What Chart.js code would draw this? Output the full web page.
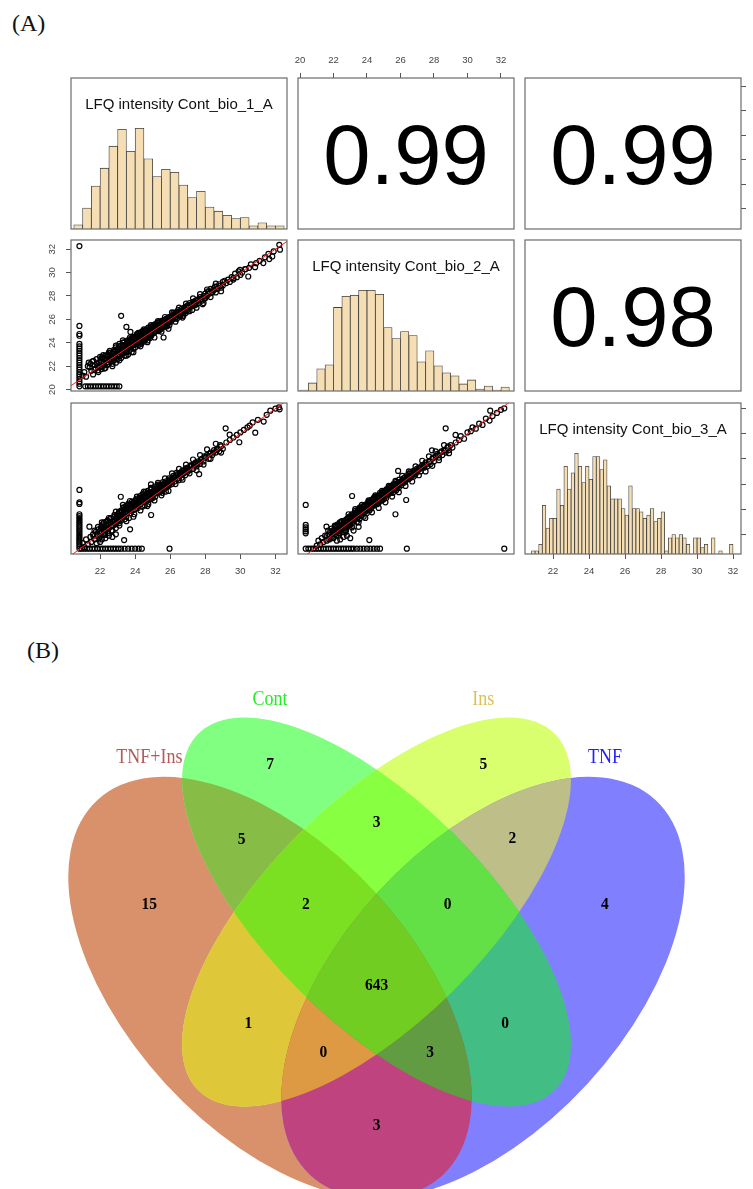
<!DOCTYPE html>
<html>
<head>
<meta charset="utf-8">
<script src="https://cdn.jsdelivr.net/npm/chart.js@4/dist/chart.umd.min.js"></script>
<style>
  html, body { margin: 0; padding: 0; background: #fff; }
  #page { position: relative; width: 753px; height: 1189px; overflow: hidden; background: #fff; }
  canvas { position: absolute; }
  .tag { position: absolute; font-family: 'Liberation Serif', serif; font-size: 24px; line-height: 24px; color: #111; }
</style>
</head>
<body>
<div id="page">
  <div class="tag" style="left:12px;top:11px">(A)</div>
  <div class="tag" style="left:27px;top:638px">(B)</div>
</div>
<script>
// ---- data: panel (A), pairs plot of three replicates ----
const sampleNames = ['LFQ intensity Cont_bio_1_A', 'LFQ intensity Cont_bio_2_A', 'LFQ intensity Cont_bio_3_A'];
const axisRanges = [[20.34, 32.66], [19.88, 32.78], [20.44, 32.44]];
const tickValues = [20, 22, 24, 26, 28, 30, 32];
const correlations = [0.99, 0.99, 0.98]; // bio1-bio2, bio1-bio3, bio2-bio3

const hist1Start = 20.5, hist1Width = 0.5;
const hist1Counts = [4, 20, 41, 58, 79, 95, 74, 96, 67, 50, 57, 54, 42, 30, 36, 21, 17, 13, 10, 11, 3, 6, 3, 3];
const hist2Start = 20.0, hist2Width = 0.5;
const hist2Counts = [1, 8, 22, 26, 83, 94, 95, 100, 100, 96, 63, 52, 59, 55, 29, 40, 25, 18, 15, 7, 11, 2, 5, 1, 4];
const hist3Start = 20.8, hist3Width = 0.2;
const hist3Counts = [1, 1, 3, 15, 8, 11, 11, 20, 15, 27, 20, 25, 31, 27, 22, 27, 23, 30, 30, 26,
  29, 21, 17, 17, 17, 14, 12, 21, 14, 14, 13, 11, 12, 14, 10, 11, 13, 1, 5, 6,
  5, 6, 5, 3, 0, 5, 5, 2, 3, 0, 5, 0, 1, 0, 0, 3];

const bio1VsBio2 = [
  // missing in bio_1 (imputed)
  [20.82,32.26],[20.82,25.44],[20.82,24.75],[20.82,24.6],[20.82,23.9],[20.82,23.7],[20.82,23.5],[20.82,23.3],[20.82,23.1],[20.82,22.9],[20.82,22.7],[20.82,22.5],[20.82,22.3],[20.82,22.1],[20.82,21.9],[20.82,21.7],[20.82,21.5],[20.82,21.3],[20.82,21.1],[20.82,20.9],[20.82,20.7],[20.82,20.5],[20.82,20.28],
  // missing in bio_2
  [21.15,20.28],[21.3,20.28],[21.45,20.28],[21.6,20.28],[21.75,20.28],[21.9,20.28],[22.05,20.28],[22.2,20.28],[22.35,20.28],[22.5,20.28],[22.65,20.28],[22.8,20.28],[22.95,20.28],[23.1,20.28],
  // measured in both
  [21.0,21.2],[21.1,21.5],[21.2,21.1],[21.3,22.0],[21.35,22.3],[21.4,21.9],[21.45,22.2],[21.5,21.6],[21.55,22.4],[21.6,21.3],[21.7,22.1],[21.75,21.8],[21.8,22.6],[21.85,22.0],[21.9,21.5],[21.95,22.3],[22.0,22.8],[22.0,21.9],
  [22.05,22.4],[22.1,22.0],[22.15,22.7],[22.2,22.3],[22.25,21.8],[22.3,22.9],[22.35,22.5],[22.4,22.1],[22.45,23.0],[22.5,22.6],[22.5,22.2],[22.55,23.3],[22.6,22.8],[22.65,22.4],[22.7,23.1],[22.7,22.0],[22.75,22.7],[22.8,23.4],[22.8,22.5],[22.85,23.0],[22.9,22.3],[22.9,23.6],[22.95,22.9],[23.0,23.2],[23.0,22.6],
  [23.05,23.5],[23.1,22.9],[23.1,23.9],[23.15,23.3],[23.2,22.7],[23.2,26.3],[23.25,23.6],[23.3,23.1],[23.3,24.0],[23.35,23.4],[23.4,22.9],[23.4,23.8],[23.45,23.5],[23.5,23.2],[23.5,25.35],[23.55,24.1],[23.6,23.6],[23.6,23.0],[23.65,23.9],[23.7,23.4],[23.73,24.93],[23.75,24.2],[23.8,23.7],[23.8,23.2],[23.85,24.0],[23.9,23.5],[23.9,24.4],[23.95,23.8],[24.0,24.1],[24.0,23.6],
  [24.05,24.5],[24.1,23.9],[24.1,24.2],[24.15,24.7],[24.2,23.8],[24.2,24.4],[24.25,24.0],[24.3,24.8],[24.3,24.3],[24.35,23.9],[24.4,24.6],[24.4,24.2],[24.45,25.0],[24.5,24.5],[24.5,24.1],[24.55,24.8],[24.6,24.3],[24.6,25.1],[24.65,24.6],[24.7,24.2],[24.7,24.9],[24.75,25.3],[24.8,24.5],[24.8,24.9],[24.85,24.4],[24.9,25.1],[24.9,24.7],[24.95,25.4],[25.0,24.8],[25.0,25.1],
  [25.05,25.5],[25.1,24.9],[25.1,25.2],[25.15,25.6],[25.2,25.0],[25.2,25.4],[25.25,25.7],[25.3,25.2],[25.35,25.5],[25.4,25.1],[25.4,25.8],[25.45,25.4],[25.5,25.6],[25.5,25.2],[25.55,25.9],[25.6,25.5],[25.62,24.45],[25.65,25.8],[25.7,25.4],[25.75,26.0],[25.8,25.7],[25.8,25.4],[25.85,26.1],[25.9,25.8],[25.95,25.5],[26.0,26.2],[26.0,25.9],
  [26.05,25.8],[26.1,26.3],[26.15,26.0],[26.2,26.4],[26.25,26.1],[26.3,26.6],[26.35,26.2],[26.4,26.5],[26.45,26.8],[26.5,26.3],[26.55,26.7],[26.6,26.4],[26.65,26.9],[26.7,26.6],[26.75,26.3],[26.8,27.0],[26.85,26.7],[26.9,27.1],[26.95,26.8],[27.0,27.2],[27.0,26.7],
  [27.05,27.0],[27.1,27.4],[27.2,27.1],[27.25,26.8],[27.3,27.5],[27.4,27.2],[27.45,27.6],[27.5,27.3],[27.6,27.7],[27.65,27.4],[27.7,27.9],[27.8,27.6],[27.85,27.3],[27.9,28.0],[28.0,27.8],[28.0,28.2],
  [28.1,28.0],[28.15,28.4],[28.25,28.2],[28.3,28.6],[28.4,28.3],[28.5,28.5],[28.55,28.8],[28.6,28.3],[28.7,28.6],[28.8,29.0],[28.9,28.7],[29.0,29.2],[29.0,28.9],
  [29.1,29.3],[29.2,29.1],[29.3,29.4],[29.4,29.2],[29.5,29.6],[29.6,29.52],[29.6,29.4],[29.7,29.9],[29.8,29.6],[29.9,30.1],[29.98,30.23],[30.0,29.8],
  [30.1,30.0],[30.27,30.29],[30.3,30.3],[30.45,29.66],[30.5,30.4],[30.6,30.7],[30.84,30.46],[30.9,30.8],[31.1,31.0],[31.31,30.81],[31.4,31.3],[31.6,31.6],[31.65,31.15],[31.82,31.37],[31.9,31.8],[32.22,32.37],[32.26,31.95],
  [21.62,22.45],[21.68,21.7],[21.82,22.25],[21.88,21.65],[22.02,22.55],[22.08,21.75],[22.18,22.95],[22.22,22.05],[22.28,22.6],[22.38,22.85],[22.42,22.35],[22.48,22.9],[22.58,22.55],[22.62,23.15],[22.68,22.75],[22.78,23.25],[22.82,22.8],[22.88,23.35],[22.92,22.65],[22.98,23.45],
  [23.02,22.9],[23.08,23.7],[23.12,23.25],[23.18,23.75],[23.22,23.1],[23.28,23.8],[23.32,23.5],[23.38,24.05],[23.42,23.3],[23.48,23.85],[23.52,23.55],[23.58,24.2],[23.62,23.75],[23.68,24.3],[23.72,23.7],[23.78,24.35],[23.82,23.95],[23.88,24.5],[23.92,24.05],[23.98,24.45],
  [24.02,23.95],[24.08,24.6],[24.12,24.35],[24.18,24.85],[24.22,24.1],[24.28,24.65],[24.32,24.05],[24.38,24.95],[24.42,24.4],[24.48,24.85],[24.52,24.25],[24.58,25.05],[24.62,24.6],[24.68,25.15],[24.72,24.45],[24.78,25.05],[24.82,24.7],[24.88,25.3],[24.92,24.6],[24.98,25.25],
  [25.08,25.35],[25.12,24.95],[25.18,25.5],[25.28,25.45],[25.32,25.0],[25.38,25.7],[25.48,25.3],[25.52,25.85],[25.58,25.35],[25.68,25.95],[25.72,25.55],[25.78,26.05],[25.88,25.65],[25.92,26.2],
  [26.08,26.15],[26.18,26.55],[26.28,26.35],[26.38,26.05],[26.48,26.65],[26.58,26.25],[26.68,26.75],[26.78,26.85],[26.88,26.55],[26.98,27.05],
  [27.15,27.25],[27.35,27.3],[27.55,27.6],[27.75,27.75],[27.95,27.85],[28.2,28.35],[28.45,28.55],[28.65,28.8],[28.85,28.85],
  [22.1,22.75],[22.3,21.85],[22.5,23.15],[22.7,22.2],[22.9,23.75],[23.1,22.5],[23.3,24.2],[23.5,22.9],[23.7,24.45],[23.9,23.2],[24.1,24.75],[24.3,23.7],[24.5,25.15],[24.7,24.05],[24.9,25.5],[25.1,24.45],[25.3,25.85],
  [25.5,24.95],[25.7,26.2],[25.9,25.2],[26.1,26.6],[26.3,25.8],[26.5,27.0],[26.7,26.15],[26.9,27.35],[27.1,26.7],[27.3,27.8],[27.5,27.0],[27.7,28.15],[27.9,27.4],[28.1,28.55],[28.3,27.9],[28.6,29.05],[28.9,28.4],
  [23.22,23.45],[23.44,23.65],[23.66,23.8],[23.88,24.1],[24.12,24.3],[24.34,24.5],[24.56,24.7],[24.78,24.85],[25.02,25.2],[25.24,25.3],[25.46,25.6],[25.68,25.75],[25.9,25.95],[26.12,26.2],[26.34,26.45],[26.56,26.6],[26.78,26.75],[27.0,27.0],[27.22,27.3],[27.44,27.45]
];

const bio1VsBio3 = [
  // missing in bio_1
  [20.82,25.53],[20.82,24.55],[20.82,24.42],[20.82,23.6],[20.82,23.45],[20.82,23.3],[20.82,23.15],[20.82,23.0],[20.82,22.85],[20.82,22.7],[20.82,22.55],[20.82,22.4],[20.82,22.25],[20.82,22.1],[20.82,21.95],[20.82,21.8],[20.82,21.65],[20.82,21.5],[20.82,21.35],[20.82,21.2],[20.82,21.05],[20.82,20.86],
  // missing in bio_3
  [20.95,20.86],[21.1,20.86],[21.25,20.86],[21.4,20.86],[21.55,20.86],[21.7,20.86],[21.85,20.86],[22.0,20.86],[22.15,20.86],[22.3,20.86],[22.45,20.86],[22.6,20.86],[22.75,20.86],[22.9,20.86],[23.05,20.86],[23.2,20.86],[23.4,20.86],[23.6,20.86],[23.8,20.86],[24.0,20.86],[24.2,20.86],[24.38,20.86],[25.96,20.86],
  // measured in both
  [21.0,21.3],[21.1,21.0],[21.2,21.6],[21.3,21.2],[21.39,22.61],[21.45,21.8],[21.5,21.4],[21.6,22.0],[21.7,21.6],[21.75,22.2],[21.8,21.3],[21.85,21.9],[21.9,22.4],[21.95,21.7],[22.0,22.1],[22.0,21.4],
  [22.1,21.6],[22.3,21.7],[22.5,21.9],[22.7,21.8],[22.9,22.0],[23.37,21.55],[23.71,22.4],
  [22.05,22.5],[22.1,22.2],[22.15,22.8],[22.2,22.0],[22.25,22.6],[22.3,22.3],[22.35,23.0],[22.4,22.5],[22.45,22.1],[22.5,22.8],[22.55,23.2],[22.6,22.6],[22.65,22.3],[22.7,23.0],[22.75,22.7],[22.8,23.4],[22.85,22.9],[22.9,22.5],[22.95,23.2],[23.0,23.0],[23.0,23.6],
  [23.05,23.3],[23.1,22.9],[23.1,23.7],[23.15,23.4],[23.18,24.99],[23.2,23.1],[23.25,23.8],[23.3,23.4],[23.35,24.1],[23.4,23.2],[23.45,23.7],[23.5,24.0],[23.5,23.4],[23.55,24.3],[23.6,23.8],[23.65,23.3],[23.7,24.1],[23.75,23.7],[23.8,24.4],[23.85,23.9],[23.9,24.2],[23.95,23.6],[24.0,24.5],[24.0,24.0],
  [24.05,24.3],[24.1,24.7],[24.15,24.1],[24.2,24.5],[24.25,24.9],[24.3,24.4],[24.35,24.7],[24.4,24.2],[24.45,25.0],[24.5,24.6],[24.55,24.3],[24.6,24.9],[24.65,25.2],[24.7,24.7],[24.75,24.4],[24.8,25.0],[24.85,25.3],[24.9,24.8],[24.9,25.98],[24.91,23.54],[24.95,25.1],[25.0,25.4],[25.0,24.9],
  [25.05,25.2],[25.1,25.6],[25.15,25.0],[25.2,25.4],[25.25,25.8],[25.3,25.3],[25.35,25.6],[25.4,25.9],[25.45,25.4],[25.5,25.7],[25.55,25.3],[25.6,26.0],[25.65,25.6],[25.7,25.9],[25.75,25.4],[25.8,26.1],[25.85,25.8],[25.9,26.3],[25.95,25.9],[26.0,26.1],
  [26.05,26.4],[26.1,26.0],[26.2,26.5],[26.25,26.2],[26.3,26.7],[26.4,26.4],[26.45,26.8],[26.5,26.5],[26.6,26.9],[26.65,26.5],[26.7,26.8],[26.8,27.1],[26.85,26.7],[26.9,27.0],[27.0,27.3],
  [27.1,27.1],[27.2,27.5],[27.3,27.2],[27.4,27.6],[27.5,27.4],[27.6,27.8],[27.65,26.78],[27.7,27.6],[27.8,28.0],[27.9,27.8],[28.0,28.1],
  [28.1,28.3],[28.2,28.0],[28.3,28.5],[28.4,28.3],[28.5,28.7],[28.6,28.5],[28.7,28.8],[28.8,28.6],[28.9,29.0],[29.0,28.8],
  [29.16,30.43],[29.2,29.3],[29.39,29.92],[29.4,29.5],[29.6,29.7],[29.8,29.9],[29.94,29.32],[30.0,30.1],
  [30.2,30.3],[30.4,30.5],[30.53,30.64],[30.7,30.9],[30.85,30.08],[31.0,31.1],[31.33,30.96],[31.5,31.5],[31.71,31.83],[32.0,32.0],[32.2,32.1],[32.24,31.94],
  [21.62,21.85],[21.68,22.3],[21.82,22.05],[21.88,22.6],[22.02,21.9],[22.08,22.65],[22.18,22.4],[22.22,22.95],[22.28,22.15],[22.38,22.75],[22.42,23.1],[22.48,22.45],[22.58,22.95],[22.62,23.3],[22.68,22.7],[22.78,23.1],[22.82,23.55],[22.88,22.8],[22.92,23.35],[22.98,23.45],
  [23.02,23.15],[23.08,23.8],[23.12,23.5],[23.18,23.25],[23.22,23.9],[23.28,23.6],[23.32,24.15],[23.38,23.5],[23.42,23.95],[23.48,24.25],[23.52,23.7],[23.58,24.1],[23.62,24.45],[23.68,23.9],[23.72,24.35],[23.78,24.05],[23.82,24.6],[23.88,24.2],[23.92,24.55],[23.98,24.3],
  [24.02,24.75],[24.08,24.45],[24.12,24.85],[24.18,24.35],[24.22,24.7],[24.28,25.05],[24.32,24.6],[24.38,24.95],[24.42,25.2],[24.48,24.75],[24.52,25.1],[24.58,25.35],[24.62,24.8],[24.68,25.25],[24.72,25.45],[24.78,24.9],[24.82,25.2],[24.88,25.55],[24.92,25.0],[24.98,25.3],
  [25.08,25.45],[25.12,25.8],[25.18,25.25],[25.28,25.65],[25.32,25.95],[25.38,25.35],[25.48,25.9],[25.52,25.55],[25.58,26.15],[25.68,25.8],[25.72,26.2],[25.78,25.75],[25.88,26.05],[25.92,26.45],
  [26.08,26.25],[26.18,26.65],[26.28,26.45],[26.38,26.9],[26.48,26.3],[26.58,26.7],[26.68,27.05],[26.78,26.85],[26.88,27.25],[26.98,26.95],
  [27.15,27.4],[27.35,27.5],[27.55,27.6],[27.75,27.9],[27.95,28.2],[28.25,28.4],[28.45,28.5],[28.65,28.7],[28.85,29.1],
  [22.1,22.95],[22.3,21.95],[22.5,23.3],[22.7,22.3],[22.9,23.8],[23.1,22.7],[23.3,24.35],[23.5,23.05],[23.7,24.65],[23.9,23.4],[24.1,25.0],[24.3,23.9],[24.5,25.4],[24.7,24.25],[24.9,25.7],[25.1,24.7],[25.3,26.1],
  [25.5,25.1],[25.7,26.45],[25.9,25.45],[26.1,26.85],[26.3,26.0],[26.5,27.2],[26.7,26.35],[26.9,27.55],[27.1,26.85],[27.3,27.95],[27.5,27.1],[27.7,28.3],[27.9,27.55],[28.1,28.75],[28.3,28.0],[28.6,29.2],[28.9,28.5],
  [23.22,23.55],[23.44,23.8],[23.66,23.95],[23.88,24.15],[24.12,24.45],[24.34,24.6],[24.56,24.85],[24.78,25.1],[25.02,25.3],[25.24,25.5],[25.46,25.75],[25.68,25.95],[25.9,26.2],[26.12,26.4],[26.34,26.6],[26.56,26.85],[26.78,27.05],[27.0,27.2],[27.22,27.45],[27.44,27.7]
];

const bio2VsBio3 = [
  // missing in bio_2
  [20.34,24.34],[20.34,22.75],[20.34,22.56],[20.34,22.4],[20.34,22.24],[20.34,22.08],[20.34,20.86],
  // missing in bio_3
  [20.5,20.86],[20.65,20.86],[20.8,20.86],[20.95,20.86],[21.1,20.86],[21.25,20.86],[21.4,20.86],[21.55,20.86],[21.7,20.86],[21.85,20.86],[22.0,20.86],[22.15,20.86],[22.3,20.86],[22.45,20.86],[22.6,20.86],[22.75,20.86],[22.9,20.86],[23.05,20.86],[23.2,20.86],[23.4,20.86],[23.6,20.86],[23.8,20.86],[24.0,20.86],[24.2,20.86],[24.4,20.86],[24.6,20.86],[24.78,20.86],[26.38,20.86],[32.2,20.86],
  // measured in both
  [21.0,21.1],[21.1,21.5],[21.2,21.2],[21.3,21.7],[21.4,21.4],[21.5,21.9],[21.58,22.61],[21.6,21.5],[21.7,22.0],[21.75,21.6],[21.8,22.2],[21.9,21.8],[21.95,22.3],[22.0,21.7],[22.0,22.1],
  [22.2,21.5],[22.4,21.6],[22.6,21.8],[22.8,21.9],[23.0,21.7],[23.2,22.3],[24.14,21.55],[23.5,22.6],
  [22.05,22.4],[22.1,22.0],[22.15,22.6],[22.2,22.2],[22.25,22.8],[22.3,22.4],[22.35,22.1],[22.4,22.7],[22.45,23.0],[22.5,22.5],[22.55,22.2],[22.6,22.8],[22.65,23.1],[22.7,22.6],[22.75,22.3],[22.8,22.9],[22.85,23.3],[22.9,22.7],[22.95,23.1],[23.0,22.8],[23.0,23.4],
  [23.05,23.1],[23.11,25.05],[23.1,23.5],[23.15,22.9],[23.2,23.3],[23.25,23.7],[23.3,23.2],[23.35,23.6],[23.4,23.0],[23.45,23.9],[23.5,23.5],[23.55,23.2],[23.6,23.8],[23.65,24.1],[23.7,23.5],[23.75,23.9],[23.8,23.4],[23.85,24.2],[23.9,23.8],[23.95,24.0],[24.0,23.7],[24.0,24.3],
  [24.05,24.1],[24.1,24.5],[24.15,23.9],[24.2,24.3],[24.25,24.7],[24.3,24.2],[24.35,24.5],[24.4,24.9],[24.45,24.3],[24.5,24.6],[24.55,24.9],[24.6,24.4],[24.65,24.7],[24.7,25.1],[24.75,24.6],[24.8,24.9],[24.85,25.2],[24.9,24.7],[24.95,25.0],[25.0,25.3],[25.0,24.8],
  [25.05,25.1],[25.1,25.5],[25.15,24.9],[25.2,25.3],[25.25,25.6],[25.3,25.2],[25.35,25.5],[25.4,25.8],[25.45,25.4],[25.5,25.7],[25.55,25.3],[25.6,25.9],[25.65,25.6],[25.7,23.6],[25.7,26.0],[25.75,25.5],[25.8,25.8],[25.85,26.1],[25.86,27.04],[25.9,25.7],[25.95,26.0],[26.0,26.2],
  [26.05,25.9],[26.1,26.3],[26.2,26.1],[26.25,26.5],[26.3,26.2],[26.34,24.73],[26.4,26.6],[26.5,26.4],[26.55,26.8],[26.6,26.5],[26.7,26.9],[26.8,26.6],[26.85,27.0],[26.9,26.8],[27.0,27.1],
  [27.1,27.3],[27.2,27.0],[27.3,27.5],[27.4,27.3],[27.5,27.7],[27.6,27.4],[27.7,27.8],[27.8,27.6],[27.88,28.68],[27.9,28.0],[28.0,27.8],
  [28.1,28.2],[28.2,28.4],[28.3,28.1],[28.4,28.5],[28.5,28.3],[28.6,28.7],[28.7,28.5],[28.7,30.43],[28.8,28.9],[28.9,28.7],[29.0,29.1],
  [29.1,28.9],[29.29,29.9],[29.3,29.3],[29.5,29.5],[29.6,29.8],[29.8,29.6],[30.0,30.1],
  [30.2,30.2],[30.3,30.51],[30.5,30.4],[30.7,30.8],[30.9,30.7],[31.1,31.2],[31.32,31.04],[31.36,31.83],[31.5,31.4],[31.76,31.65],[32.0,31.9],[32.2,32.02],
  [21.62,21.9],[21.68,22.3],[21.82,21.7],[21.88,22.45],[22.02,22.2],[22.08,22.7],[22.18,21.95],[22.22,22.55],[22.28,22.25],[22.38,22.95],[22.42,22.4],[22.48,22.8],[22.58,22.5],[22.62,23.0],[22.68,22.35],[22.78,23.2],[22.82,22.6],[22.88,23.0],[22.92,23.4],[22.98,22.7],
  [23.02,23.25],[23.08,23.6],[23.12,23.0],[23.18,23.55],[23.22,23.15],[23.28,23.85],[23.32,23.4],[23.38,23.75],[23.42,23.3],[23.48,24.0],[23.52,23.65],[23.58,24.15],[23.62,23.45],[23.68,24.0],[23.72,23.7],[23.78,24.25],[23.82,23.75],[23.88,24.35],[23.92,23.95],[23.98,24.4],
  [24.02,24.0],[24.08,24.6],[24.12,24.2],[24.18,24.55],[24.22,24.05],[24.28,24.75],[24.32,24.4],[24.38,24.8],[24.42,24.55],[24.48,25.0],[24.52,24.45],[24.58,24.8],[24.62,25.05],[24.68,24.5],[24.72,24.9],[24.78,25.3],[24.82,24.75],[24.88,25.1],[24.92,25.35],[24.98,24.95],
  [25.08,25.4],[25.12,25.05],[25.18,25.6],[25.28,25.4],[25.32,25.75],[25.38,25.3],[25.48,25.85],[25.52,25.5],[25.58,26.0],[25.68,25.7],[25.72,26.15],[25.78,25.65],[25.88,25.95],[25.92,26.35],
  [26.08,26.1],[26.18,26.45],[26.28,26.3],[26.38,26.7],[26.48,26.55],[26.58,26.95],[26.68,26.65],[26.78,27.05],[26.88,26.75],[26.98,27.2],
  [27.15,27.2],[27.35,27.4],[27.55,27.55],[27.75,27.75],[27.95,28.1],[28.25,28.3],[28.45,28.6],[28.65,28.65],[28.85,29.0],
  [22.1,22.65],[22.3,21.9],[22.5,23.05],[22.7,22.15],[22.9,23.6],[23.1,22.55],[23.3,24.0],[23.5,22.95],[23.7,24.35],[23.9,23.3],[24.1,24.7],[24.3,23.75],[24.5,25.1],[24.7,24.1],[24.9,25.45],[25.1,24.55],[25.3,25.85],
  [25.5,25.0],[25.7,26.25],[25.9,25.35],[26.1,26.65],[26.3,25.85],[26.5,27.0],[26.7,26.2],[26.9,27.4],[27.1,26.7],[27.3,27.85],[27.5,27.0],[27.7,28.2],[27.9,27.45],[28.1,28.6],[28.3,27.9],[28.6,29.1],[28.9,28.45],
  [23.22,23.4],[23.44,23.6],[23.66,23.85],[23.88,24.05],[24.12,24.35],[24.34,24.6],[24.56,24.7],[24.78,25.0],[25.02,25.15],[25.24,25.4],[25.46,25.55],[25.68,25.8],[25.9,26.0],[26.12,26.25],[26.34,26.4],[26.56,26.65],[26.78,26.85],[27.0,27.0],[27.22,27.3],[27.44,27.5]
];

// ---- data: panel (B), Venn diagram ----
const vennSets = ['TNF+Ins', 'Cont', 'Ins', 'TNF'];
// membership flags in vennSets order
const vennRegions = ['1000','0100','0010','0001','1100','0110','0011','1010','0101','1001','1110','0111','1011','1101','1111'];
const vennCounts  = [15, 7, 5, 4, 5, 3, 2, 1, 0, 3, 2, 0, 0, 3, 643];

// ---- layout / style ----
const vennShapes = [ // cx, cy, a, b, rotation (deg, y up), in diagram units
  [0.35, 0.465, 0.359, 0.2, -47.4],
  [0.5, 0.5714, 0.355, 0.155, -45],
  [0.5, 0.5714, 0.355, 0.155, 45],
  [0.65, 0.465, 0.359, 0.2, 47.4]
];
const vennRegionColors = ['#D9916C','#80FF80','#DAFF6E','#8080FF','#87BC46','#88FF40','#BEBE88','#DEC83A','#42BE84','#BE437E','#7CE022','#62E046','#DE9A42','#629C42','#72CD22'];
const vennLabelPos = [[0.18,0.5813],[0.35,0.7785],[0.6504,0.7785],[0.8218,0.5813],[0.3101,0.6738],[0.5003,0.6968],[0.6913,0.6746],
  [0.3194,0.4146],[0.681,0.4146],[0.5003,0.2704],[0.4007,0.5813],[0.6003,0.5813],[0.4251,0.3738],[0.5754,0.3738],[0.5003,0.4672]];
const vennSetPos = [[0.18,0.7893],[0.35,0.871],[0.6504,0.871],[0.8218,0.7893]];
const vennSetColors = ['#B35A5A', '#22EE22', '#DCC05A', '#1E1EFF'];

const page = document.getElementById('page');
const M = 30;
const boxX = [71, 298, 525], boxY = [78, 240, 403], boxW = 216, boxH = 151;

function makeCanvas(left, top, w, h) {
  const c = document.createElement('canvas');
  c.width = w; c.height = h;
  c.style.left = left + 'px'; c.style.top = top + 'px';
  c.style.width = w + 'px'; c.style.height = h + 'px';
  page.appendChild(c);
  return c;
}

function axis(range, position, o) {
  o = o || {};
  const size = position === 'right' ? 12 : M;
  const s = {
    type: 'linear', position: position, min: range[0], max: range[1], bounds: 'data', offset: false,
    display: !!o.show,
    grid: {display: true, drawOnChartArea: false, drawTicks: true, tickLength: 5, color: '#555', lineWidth: 1, offset: false},
    border: {display: false},
    ticks: {display: !!o.labels, autoSkip: false, color: '#444',
      font: {family: 'Liberation Sans', size: 9.5}, padding: o.pad || 6.5,
      minRotation: o.rot || 0, maxRotation: o.rot || 0, crossAlign: o.rot ? 'center' : 'near'}
  };
  if (o.show) {
    s.afterBuildTicks = sc => { sc.ticks = tickValues.filter(v => v >= sc.min && v <= sc.max).map(v => ({value: v})); };
    s.afterFit = sc => { if (sc.isHorizontal()) sc.height = size; else sc.width = size; };
  }
  return s;
}

const decor = {
  id: 'decor',
  afterDraw(chart, args, o) {
    const {ctx, chartArea: a} = chart;
    const cx = (a.left + a.right) / 2;
    ctx.save();
    if (o.big) {
      ctx.fillStyle = '#000';
      ctx.font = '85px "Liberation Sans"';
      ctx.textAlign = 'center';
      ctx.textBaseline = 'alphabetic';
      ctx.fillText(o.big, cx, (a.top + a.bottom) / 2 + 85 * 0.716 / 2);
    }
    if (o.title) {
      ctx.fillStyle = '#111';
      ctx.font = '15px "Liberation Sans"';
      ctx.textAlign = 'center';
      ctx.textBaseline = 'alphabetic';
      ctx.fillText(o.title, cx, a.top + 30.5);
    }
    ctx.strokeStyle = '#6b6b6b';
    ctx.lineWidth = 1.2;
    ctx.strokeRect(a.left, a.top, a.width, a.height);
    ctx.restore();
  }
};

function panel(row, col, type, scales, datasets, decorOpts) {
  const mr = col === 2 ? 12 : M;
  const canvas = makeCanvas(boxX[col] - M, boxY[row] - M, boxW + M + mr, boxH + 2 * M);
  const shown = {left: false, right: false, top: false, bottom: false};
  Object.values(scales).forEach(s => { if (s.display) shown[s.position] = true; });
  new Chart(canvas, {
    type: type,
    data: {datasets: datasets},
    options: {
      responsive: false, animation: false, devicePixelRatio: 1, events: [],
      layout: {padding: {left: shown.left ? 0 : M, right: shown.right ? 0 : mr, top: shown.top ? 0 : M, bottom: shown.bottom ? 0 : M}},
      scales: scales,
      plugins: {legend: {display: false}, tooltip: {enabled: false}, decor: decorOpts}
    },
    plugins: [decor]
  });
}

function histDataset(counts, start, width) {
  return {
    data: counts.map((c, i) => ({x: start + (i + 0.5) * width, y: c})),
    backgroundColor: '#F5DEB3', borderColor: '#3c3c3c', borderWidth: 0.8,
    barPercentage: 1, categoryPercentage: 1
  };
}
function countAxis(counts) { return axis([0, 1.5 * Math.max(...counts)], 'left'); }

function scatterSets(points) {
  return [
    {data: [{x: 19, y: 19}, {x: 34, y: 34}], showLine: true, borderColor: '#ff1a1a', borderWidth: 1, pointRadius: 0},
    {data: points.map(p => ({x: p[0], y: p[1]})), pointRadius: 2.5, borderWidth: 1.2, borderColor: '#000', backgroundColor: 'rgba(0,0,0,0)'}
  ];
}

const r = axisRanges;
panel(0, 0, 'bar', {x: axis(r[0], 'bottom'), y: countAxis(hist1Counts)}, [histDataset(hist1Counts, hist1Start, hist1Width)], {title: sampleNames[0]});
panel(0, 1, 'scatter', {x: axis(r[1], 'top', {show: true, labels: true}), y: axis(r[0], 'left')}, [], {big: correlations[0].toFixed(2)});
panel(0, 2, 'scatter', {x: axis(r[2], 'bottom'), y: axis(r[0], 'right', {show: true})}, [], {big: correlations[1].toFixed(2)});
panel(1, 0, 'scatter', {x: axis(r[0], 'bottom'), y: axis(r[1], 'left', {show: true, labels: true, rot: 90, pad: 8.5})}, scatterSets(bio1VsBio2), {});
panel(1, 1, 'bar', {x: axis(r[1], 'bottom'), y: countAxis(hist2Counts)}, [histDataset(hist2Counts, hist2Start, hist2Width)], {title: sampleNames[1]});
panel(1, 2, 'scatter', {x: axis(r[2], 'bottom'), y: axis(r[1], 'left')}, [], {big: correlations[2].toFixed(2)});
panel(2, 0, 'scatter', {x: axis(r[0], 'bottom', {show: true, labels: true}), y: axis(r[2], 'left')}, scatterSets(bio1VsBio3), {});
panel(2, 1, 'scatter', {x: axis(r[1], 'bottom'), y: axis(r[2], 'left')}, scatterSets(bio2VsBio3), {});
panel(2, 2, 'bar', {x: axis(r[2], 'bottom', {show: true, labels: true}), y: countAxis(hist3Counts), yr: axis(r[2], 'right', {show: true})},
  [histDataset(hist3Counts, hist3Start, hist3Width)], {title: sampleNames[2]});

// ---- Venn diagram ----
function setCount(flags) { return flags.split('').filter(f => f === '1').length; }

const vennPlugin = {
  id: 'venn',
  beforeDatasetsDraw(chart) {
    const {ctx, chartArea: ca, scales: {x, y}} = chart;
    const unit = x.getPixelForValue(1) - x.getPixelForValue(0);
    const shapes = vennShapes.map(e => {
      const p = new Path2D();
      p.ellipse(x.getPixelForValue(e[0]), y.getPixelForValue(e[1]), e[2] * unit, e[3] * unit, -e[4] * Math.PI / 180, 0, 2 * Math.PI);
      return p;
    });
    // paint intersections from single sets up to all four, so each region ends with its own colour
    const order = vennRegions.map((f, i) => i).sort((i, j) => setCount(vennRegions[i]) - setCount(vennRegions[j]));
    order.forEach(i => {
      ctx.save();
      vennRegions[i].split('').forEach((f, k) => { if (f === '1') ctx.clip(shapes[k]); });
      ctx.fillStyle = vennRegionColors[i];
      ctx.fillRect(ca.left, ca.top, ca.width, ca.height);
      ctx.restore();
    });
  },
  afterDatasetsDraw(chart) {
    const ctx = chart.ctx;
    const put = (txt, el, font, color) => {
      ctx.save();
      ctx.translate(el.x, el.y);
      ctx.scale(1, 1.12);
      ctx.font = font; ctx.fillStyle = color;
      ctx.textAlign = 'center'; ctx.textBaseline = 'middle';
      ctx.fillText(txt, 0, 0);
      ctx.restore();
    };
    chart.getDatasetMeta(0).data.forEach((el, i) => put(String(vennCounts[i]), el, 'bold 15.5px "Liberation Serif"', '#000'));
    chart.getDatasetMeta(1).data.forEach((el, i) => put(vennSets[i], el, '18px "Liberation Serif"', vennSetColors[i]));
  }
};

new Chart(makeCanvas(0, 630, 753, 559), {
  type: 'scatter',
  data: {datasets: [
    {data: vennLabelPos.map(p => ({x: p[0], y: p[1]})), pointRadius: 0},
    {data: vennSetPos.map(p => ({x: p[0], y: p[1]})), pointRadius: 0}
  ]},
  options: {
    responsive: false, animation: false, devicePixelRatio: 1, events: [],
    layout: {padding: 0},
    scales: {
      x: {type: 'linear', min: -0.0303, max: 1.0303, display: false},
      y: {type: 'linear', min: 0.1813, max: 0.9686, display: false}
    },
    plugins: {legend: {display: false}, tooltip: {enabled: false}}
  },
  plugins: [vennPlugin]
});
</script>
</body>
</html>
